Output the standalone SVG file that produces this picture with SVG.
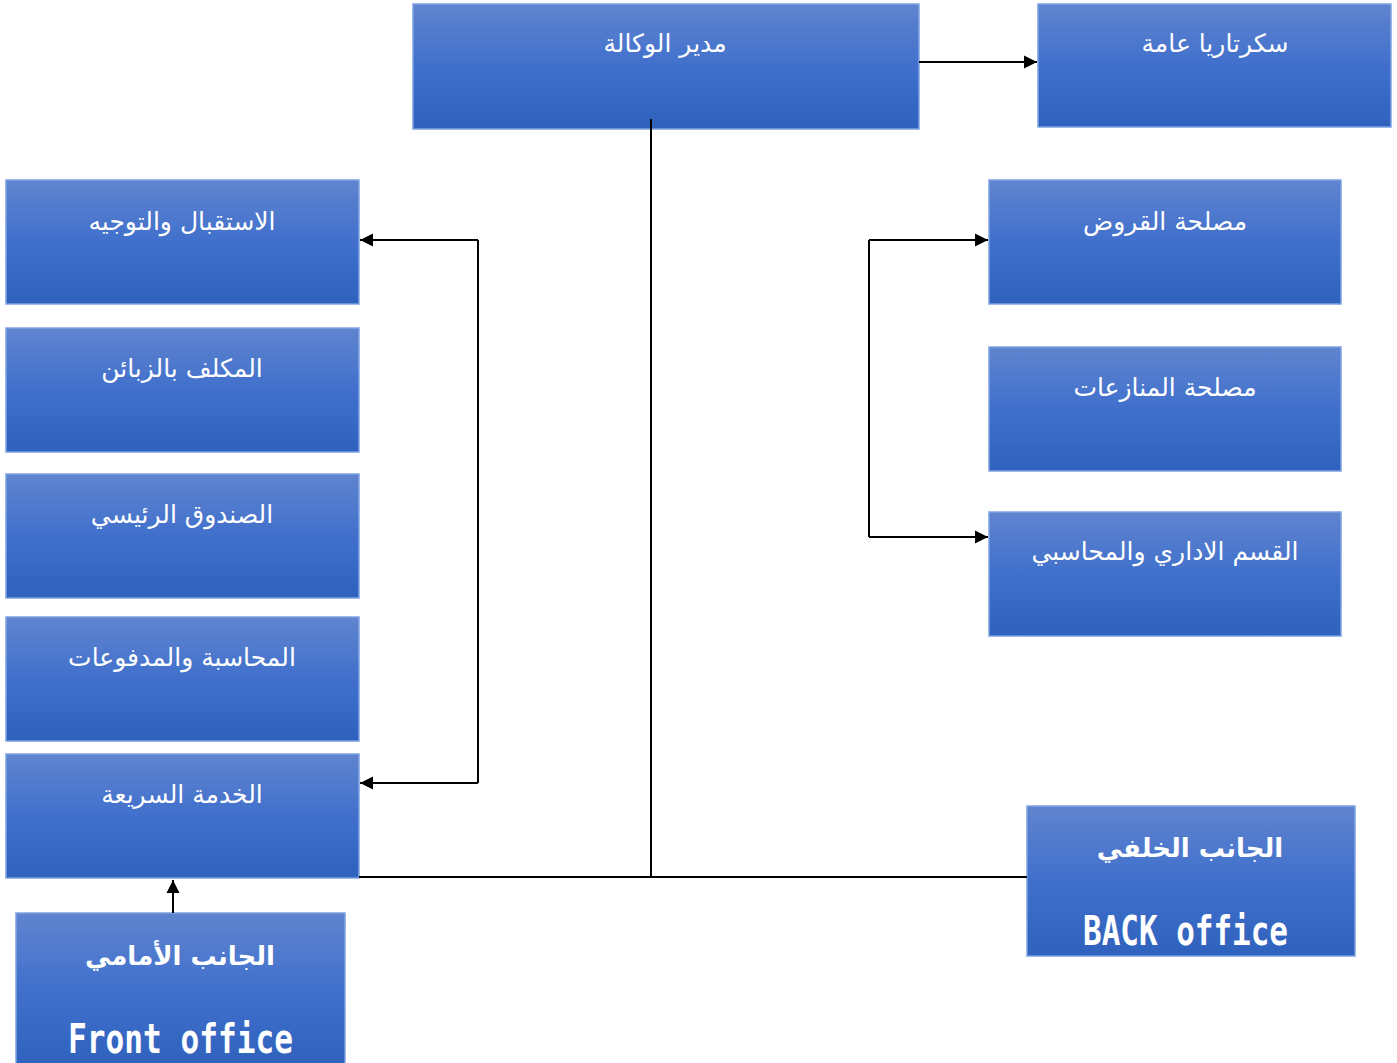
<svg xmlns="http://www.w3.org/2000/svg" width="1397" height="1063" viewBox="0 0 1397 1063">
<defs>
<linearGradient id="g" x1="0" y1="0" x2="0" y2="1">
<stop offset="0" stop-color="#6084cf"/>
<stop offset="0.5" stop-color="#4070cc"/>
<stop offset="1" stop-color="#2f62bc"/>
</linearGradient>
<marker id="ah" viewBox="0 0 10 10" refX="10" refY="5" markerWidth="6.5" markerHeight="7.5" orient="auto-start-reverse" markerUnits="strokeWidth">
<path d="M0,0 L10,5 L0,10 z" fill="#000"/>
</marker>
<style>
.box{fill:url(#g);stroke:#7ea2e2;stroke-width:1.5}
.ar{font-family:"DejaVu Sans",sans-serif;font-size:25px;fill:#fff;text-anchor:middle}
.arb{font-family:"DejaVu Sans",sans-serif;font-size:26px;font-weight:bold;fill:#fff;text-anchor:middle}
.en{font-family:"DejaVu Sans Mono","Liberation Mono",monospace;font-size:40px;font-weight:bold;fill:#fff}
.ln{fill:none;stroke:#000;stroke-width:2}
</style>
</defs>
<g id="n-director"><rect class="box" x="413" y="4" width="506" height="125"/><text class="ar" x="665" y="52">مدير الوكالة</text></g>
<g id="n-secretary"><rect class="box" x="1038" y="4" width="353" height="123"/><text class="ar" x="1215" y="52">سكرتاريا عامة</text></g>
<g id="n-reception"><rect class="box" x="6" y="180" width="353" height="124"/><text class="ar" x="182" y="230">الاستقبال والتوجيه</text></g>
<g id="n-customers"><rect class="box" x="6" y="328" width="353" height="124"/><text class="ar" x="182" y="377">المكلف بالزبائن</text></g>
<g id="n-cashier"><rect class="box" x="6" y="474" width="353" height="124"/><text class="ar" x="182" y="523">الصندوق الرئيسي</text></g>
<g id="n-accounting"><rect class="box" x="6" y="617" width="353" height="124"/><text class="ar" x="182" y="666">المحاسبة والمدفوعات</text></g>
<g id="n-fast"><rect class="box" x="6" y="754" width="353" height="124"/><text class="ar" x="182" y="803">الخدمة السريعة</text></g>
<g id="n-front"><rect class="box" x="16" y="913" width="329" height="155"/><text class="arb" x="180" y="965">الجانب الأمامي</text><text class="en" x="68" y="1053" textLength="225" lengthAdjust="spacingAndGlyphs">Front office</text></g>
<g id="n-loans"><rect class="box" x="989" y="180" width="352" height="124"/><text class="ar" x="1165" y="230">مصلحة القروض</text></g>
<g id="n-disputes"><rect class="box" x="989" y="347" width="352" height="124"/><text class="ar" x="1165" y="396">مصلحة المنازعات</text></g>
<g id="n-admin"><rect class="box" x="989" y="512" width="352" height="124"/><text class="ar" x="1165" y="560">القسم الاداري والمحاسبي</text></g>
<g id="n-back"><rect class="box" x="1027" y="806" width="328" height="150"/><text class="arb" x="1190" y="857">الجانب الخلفي</text><text class="en" x="1083" y="945" textLength="205" lengthAdjust="spacingAndGlyphs">BACK office</text></g>
<g id="connectors">
<line class="ln" x1="651" y1="119" x2="651" y2="877"/>
<line class="ln" x1="359" y1="877" x2="1027" y2="877"/>
<line class="ln" x1="919" y1="62" x2="1037" y2="62" marker-end="url(#ah)"/>
<polyline class="ln" points="478,240 478,783"/>
<line class="ln" x1="478" y1="240" x2="360" y2="240" marker-end="url(#ah)"/>
<line class="ln" x1="478" y1="783" x2="360" y2="783" marker-end="url(#ah)"/>
<polyline class="ln" points="869,240 869,537"/>
<line class="ln" x1="869" y1="240" x2="988" y2="240" marker-end="url(#ah)"/>
<line class="ln" x1="869" y1="537" x2="988" y2="537" marker-end="url(#ah)"/>
<line class="ln" x1="173" y1="913" x2="173" y2="880" marker-end="url(#ah)"/>
</g>
</svg>
